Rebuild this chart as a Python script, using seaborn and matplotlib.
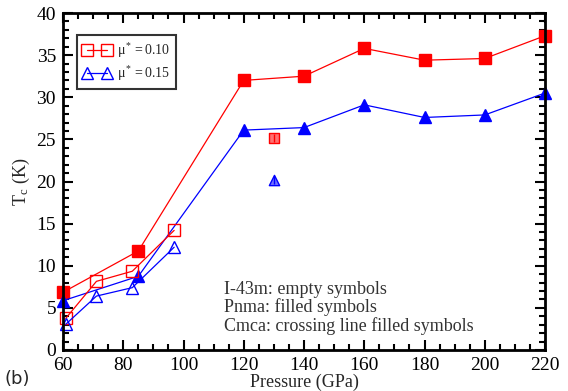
import matplotlib
matplotlib.use("Agg")
import matplotlib.pyplot as plt
import seaborn as sns
import pandas as pd
from matplotlib.ticker import MultipleLocator
from matplotlib.lines import Line2D

# Pnma (filled symbols)
p_pnma = [60, 85, 120, 140, 160, 180, 200, 220]
tc_pnma_010 = [6.85, 11.75, 32.0, 32.5, 35.8, 34.4, 34.6, 37.3]
tc_pnma_015 = [5.85, 8.75, 26.1, 26.4, 29.1, 27.6, 27.9, 30.5]
# I-43m (empty symbols)
p_i43m = [60.9, 71.1, 83.0, 96.9]
tc_i43m_010 = [3.75, 8.15, 9.35, 14.2]
tc_i43m_015 = [3.05, 6.4, 7.4, 12.2]
# Cmca (crossing line filled symbols)
p_cmca = [130]
tc_cmca_010 = [25.2]
tc_cmca_015 = [20.2]

red = "#ff0000"
blue = "#0000ff"

sns.set_theme(style="ticks")
plt.rcParams["font.family"] = ["Liberation Serif", "DejaVu Serif"]
plt.rcParams["mathtext.fontset"] = "stix"

fig = plt.figure(figsize=(5.68, 3.91), dpi=100)
ax = fig.add_axes([63/568, 1-350/391, (545-63)/568, (350-13)/391])

def line(x, y, color, marker, filled, ms):
    df = pd.DataFrame({"x": x, "y": y})
    sns.lineplot(data=df, x="x", y="y", ax=ax, color=color, lw=0.9, sort=False,
                 marker=marker, markersize=ms, clip_on=False,
                 markerfacecolor=color if filled else "none",
                 markeredgecolor=color, markeredgewidth=1.0)

line(p_pnma, tc_pnma_010, red, "s", True, 9)
line(p_pnma, tc_pnma_015, blue, "^", True, 9)
line(p_i43m, tc_i43m_010, red, "s", False, 9)
line(p_i43m, tc_i43m_015, blue, "^", False, 9)

sns.scatterplot(x=p_cmca, y=tc_cmca_010, ax=ax, marker="s", s=55,
                color="#ff7070", edgecolor=red, linewidth=1.0, zorder=5)
sns.scatterplot(x=p_cmca, y=tc_cmca_010, ax=ax, marker="|", s=40,
                color=red, linewidth=1.0, zorder=6)
sns.scatterplot(x=p_cmca, y=tc_cmca_015, ax=ax, marker="^", s=55,
                color="#7070ff", edgecolor=blue, linewidth=1.0, zorder=5)
sns.scatterplot(x=p_cmca, y=tc_cmca_015, ax=ax, marker="|", s=30,
                color=blue, linewidth=1.0, zorder=6)

ax.set_xlim(60, 220)
ax.set_ylim(0, 40)
ax.xaxis.set_major_locator(MultipleLocator(20))
ax.xaxis.set_minor_locator(MultipleLocator(5))
ax.yaxis.set_major_locator(MultipleLocator(5))
ax.yaxis.set_minor_locator(MultipleLocator(1))
ax.tick_params(which="both", direction="in", top=True, right=True, width=1.5,
               labelsize=14, colors="black")
ax.tick_params(axis="x", which="both", pad=5)
ax.tick_params(axis="y", which="both", pad=5)
ax.tick_params(which="major", length=7)
ax.tick_params(which="minor", length=4)
for s in ax.spines.values():
    s.set_linewidth(2)
    s.set_color("black")

ax.set_xlabel("Pressure (GPa)", fontsize=13, labelpad=0)
ax.set_ylabel(r"T$_\mathregular{c}$ (K)", fontsize=13, labelpad=3)

handles = [
    Line2D([], [], color=red, lw=0.9, marker="s", markersize=8,
           markerfacecolor="none", markeredgecolor=red),
    Line2D([], [], color=blue, lw=0.9, marker="^", markersize=8,
           markerfacecolor="none", markeredgecolor=blue),
]
leg = ax.legend(handles, [r"$\mathregular{\mu^* = 0.10}$", r"$\mathregular{\mu^* = 0.15}$"],
                loc="upper left", bbox_to_anchor=(0.029, 0.935), borderaxespad=0,
                numpoints=2, fontsize=10, frameon=True, fancybox=False,
                edgecolor="black", handlelength=2.0, handletextpad=0.4,
                borderpad=0.45, labelspacing=0.3)
leg.get_frame().set_linewidth(1.5)

ax.text(0.335, 0.205, "I-43m: empty symbols\nPnma: filled symbols\nCmca: crossing line filled symbols",
        transform=ax.transAxes, fontsize=13, va="top", ha="left", color="#333333",
        linespacing=1.05)

fig.text(5/568, 1-379/391, "(b)", fontsize=13, family="DejaVu Sans", va="center", ha="left")

fig.savefig("out.png", dpi=100)
